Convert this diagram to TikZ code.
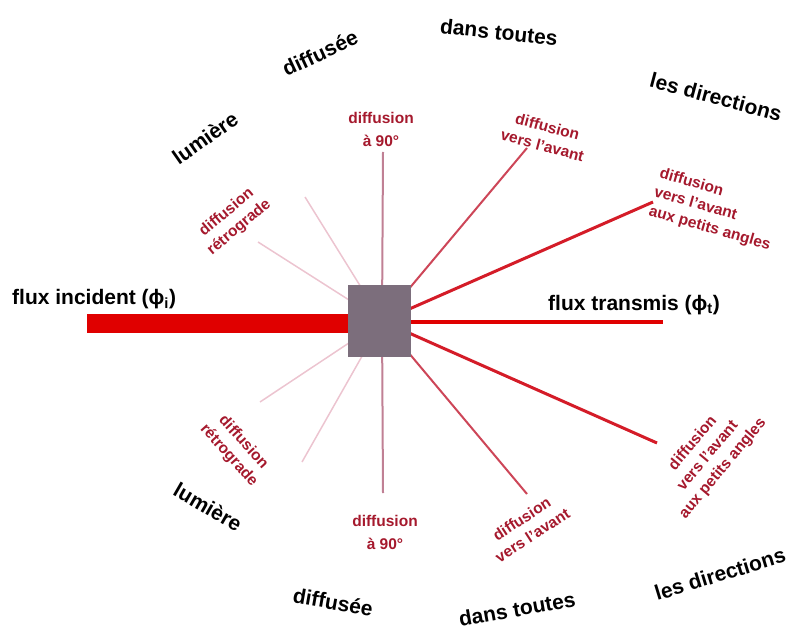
\documentclass[tikz,border=0pt]{standalone}
\usepackage{fontspec}
\setmainfont{Liberation Sans}
\usetikzlibrary{positioning}
\definecolor{beamred}{RGB}{224,0,0}
\definecolor{samplegray}{RGB}{124,110,124}
\definecolor{labred}{RGB}{165,25,45}
\definecolor{raysmall}{RGB}{212,28,40}
\definecolor{rayfwd}{RGB}{205,70,88}
\definecolor{rayright}{RGB}{192,128,148}
\definecolor{rayback}{RGB}{236,196,208}

\begin{document}
\begin{tikzpicture}[x=1pt,y=-1pt,
    big/.style={font=\fontsize{21}{24}\selectfont\bfseries,inner sep=0pt},
    lab/.style={font=\fontsize{15.5}{23}\selectfont\bfseries,text=labred,align=center,inner sep=0pt},
    tight/.style={lab,font=\fontsize{15.5}{19.5}\selectfont\bfseries}]
  \path[use as bounding box] (0,0) rectangle (792,636);
  \coordinate (c) at (382,321);
  \coordinate (src) at (87,323.5);
  \coordinate (out) at (663,322);
  \coordinate (back1) at (305,197);
  \coordinate (back2) at (258,242);
  \coordinate (up) at (383,152);
  \coordinate (fwd1) at (527,148);
  \coordinate (small1) at (653,202);
  \coordinate (small2) at (657,443);
  \coordinate (fwd2) at (527,494);
  \coordinate (down) at (383,493);
  \coordinate (back3) at (302,462);
  \coordinate (back4) at (260,402);

  \draw[rayback,line width=1.5pt] (c) -- (back1) (c) -- (back2) (c) -- (back3) (c) -- (back4);
  \draw[rayright,line width=2pt] (c) -- (up) (c) -- (down);
  \draw[rayfwd,line width=2pt] (c) -- (fwd1) (c) -- (fwd2);
  \draw[raysmall,line width=3pt] (c) -- (small1) (c) -- (small2);

  \node[fill=samplegray,minimum width=63pt,minimum height=72pt,inner sep=0pt] (sample) at (379.5,321) {};
  \draw[beamred,line width=19pt] (src) -- (sample.west |- src);
  \draw[beamred,line width=4pt] (sample.east |- out) -- (out);

  \node[big,anchor=base west] (fluxin) at (12,305) {flux incident (ϕ\textsubscript{i})};
  \node[big,anchor=base west] (fluxout) at (548,310) {flux transmis (ϕ\textsubscript{t})};

  \node[tight,rotate=40] (retro1) at (233,220) {diffusion\\rétrograde};
  \node[lab] (right1) at (381,129) {diffusion\\à 90°};
  \node[tight,rotate=-15] (fwdlab1) at (545,136) {diffusion\\vers l'avant};
  \node[tight,rotate=-16,align=left] (smalllab1) at (715,210) {diffusion\\vers l'avant\\aux petits angles};
  \node[tight,rotate=50] (smalllab2) at (708,456) {diffusion\\vers l'avant\\aux petits angles};
  \node[tight,rotate=33] (fwdlab2) at (527,527) {diffusion\\vers l'avant};
  \node[lab] (right2) at (385,532) {diffusion\\à 90°};
  \node[tight,rotate=-48] (retro2) at (236,449) {diffusion\\rétrograde};

  \node[big,rotate=35] (lum1) at (205,138) {lumière};
  \node[big,rotate=25] (dif1) at (320,53) {diffusée};
  \node[big,rotate=-6] (dans1) at (499,32) {dans toutes};
  \node[big,rotate=-15] (dir1) at (716,97) {les directions};
  \node[big,rotate=-30] (lum2) at (208,507) {lumière};
  \node[big,rotate=-10] (dif2) at (333,602) {diffusée};
  \node[big,rotate=10] (dans2) at (517,609) {dans toutes};
  \node[big,rotate=17] (dir2) at (720,574) {les directions};
\end{tikzpicture}
\end{document}
